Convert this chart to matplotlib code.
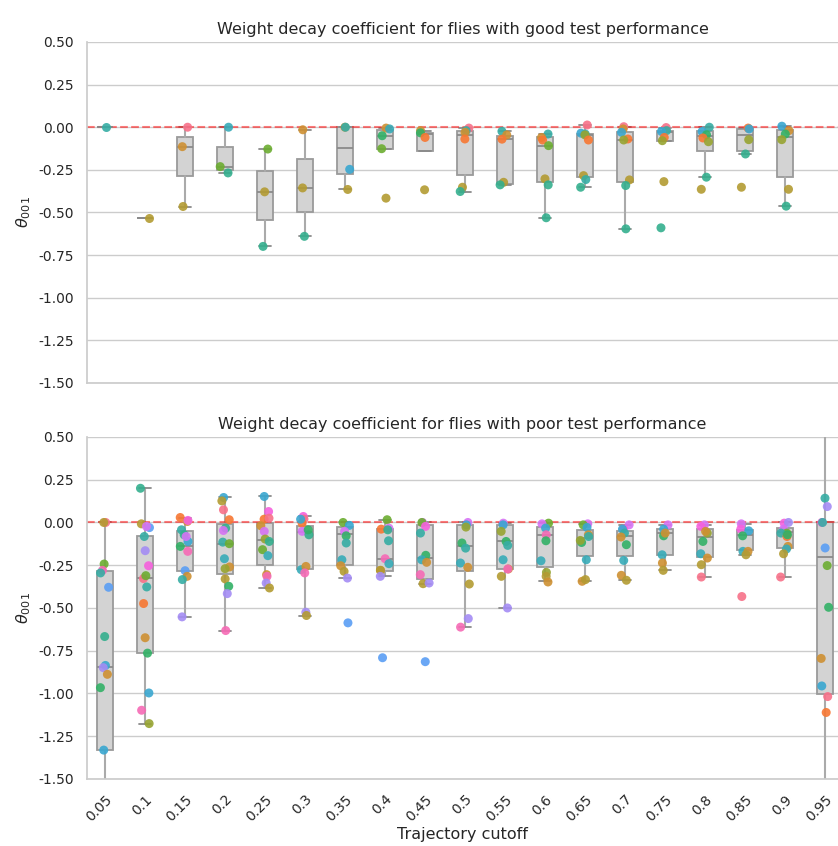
import numpy as np
import matplotlib
matplotlib.use('Agg')
import matplotlib.pyplot as plt
import seaborn as sns

cutoffs = ['0.05', '0.1', '0.15', '0.2', '0.25', '0.3', '0.35', '0.4', '0.45', '0.5',
           '0.55', '0.6', '0.65', '0.7', '0.75', '0.8', '0.85', '0.9', '0.95']

# theta_001 per fly, flies with good test performance
good_vals = [
    [0.0],
    [-0.53],
    [0.0, -0.114, -0.465],
    [0.0, -0.231, -0.268],
    [-0.128, -0.379, -0.699],
    [-0.015, -0.356, -0.64],
    [0.0, 0.0, -0.247, -0.365],
    [-0.005, -0.01, -0.05, -0.126, -0.416],
    [-0.02, -0.033, -0.06, -0.367],
    [-0.005, -0.02, -0.03, -0.069, -0.352, -0.377],
    [-0.024, -0.045, -0.07, -0.323, -0.338],
    [-0.04, -0.06, -0.075, -0.108, -0.303, -0.338, -0.531],
    [0.013, -0.035, -0.04, -0.045, -0.075, -0.284, -0.307, -0.352],
    [0.003, -0.01, -0.03, -0.069, -0.075, -0.309, -0.342, -0.596],
    [-0.002, -0.02, -0.025, -0.06, -0.079, -0.319, -0.59],
    [0.0, -0.025, -0.044, -0.063, -0.085, -0.293, -0.364],
    [-0.005, -0.01, -0.073, -0.157, -0.352],
    [0.006, -0.02, -0.04, -0.073, -0.364, -0.463],
    [],
]
good_fly = [
    [8], [3], [0, 2, 3], [9, 5, 7], [5, 3, 7], [2, 3, 7], [2, 8, 10, 3],
    [2, 9, 6, 5, 3], [2, 6, 1, 3], [0, 8, 2, 1, 3, 7], [8, 2, 1, 3, 7],
    [8, 2, 1, 5, 3, 7, 7], [0, 10, 9, 4, 1, 3, 8, 7], [0, 2, 10, 1, 4, 3, 7, 7],
    [0, 8, 10, 1, 4, 3, 7], [8, 10, 6, 1, 4, 7, 3], [1, 10, 4, 7, 3],
    [10, 2, 6, 4, 3, 7], [],
]
good_q1 = [0.0, -0.53, -0.289, -0.25, -0.543, -0.498, -0.274, -0.128, -0.141, -0.282,
           -0.332, -0.319, -0.29, -0.319, -0.079, -0.137, -0.137, -0.29]
good_med = [0.0, -0.53, -0.114, -0.235, -0.379, -0.356, -0.124, -0.05, -0.04, -0.046,
            -0.069, -0.11, -0.046, -0.075, -0.03, -0.054, -0.044, -0.056]
good_q3 = [0.0, -0.53, -0.059, -0.118, -0.254, -0.186, 0.0, -0.015, -0.032, -0.024,
           -0.05, -0.06, -0.04, -0.026, -0.023, -0.025, -0.013, -0.017]
good_lo = [0.0, -0.53, -0.465, -0.268, -0.699, -0.64, -0.365, -0.128, -0.141, -0.377,
           -0.338, -0.531, -0.352, -0.596, -0.079, -0.293, -0.157, -0.463]
good_hi = [0.0, -0.53, 0.0, 0.0, -0.128, -0.015, 0.0, -0.005, -0.02, -0.005,
           -0.024, -0.04, 0.013, 0.003, -0.002, 0.0, -0.005, 0.006]

# theta_001 per fly, flies with poor test performance
poor_vals = [
    [0.0, 0.0, -0.243, -0.28, -0.295, -0.379, -0.667, -0.836, -0.849, -0.888, -0.966, -1.331],
    [0.2, -0.008, -0.03, -0.023, -0.082, -0.165, -0.253, -0.328, -0.311, -0.377, -0.474,
     -0.674, -0.764, -0.997, -1.098, -1.176],
    [0.029, 0.006, 0.012, -0.043, -0.072, -0.111, -0.14, -0.082, -0.169, -0.282, -0.315,
     -0.334, -0.552],
    [0.146, 0.126, 0.074, 0.016, -0.033, -0.047, -0.115, -0.124, -0.212, -0.26, -0.27,
     -0.33, -0.373, -0.416, -0.632],
    [0.152, 0.064, 0.019, 0.025, -0.019, -0.052, -0.097, -0.111, -0.159, -0.194, -0.305,
     -0.315, -0.354, -0.383],
    [0.035, 0.02, -0.004, 0.019, -0.052, -0.072, -0.043, -0.276, -0.257, -0.295, -0.525, -0.544],
    [0.0, -0.017, -0.052, -0.078, -0.12, -0.218, -0.253, -0.286, -0.325, -0.587],
    [0.016, -0.039, -0.033, -0.043, -0.107, -0.212, -0.241, -0.28, -0.28, -0.315, -0.791],
    [0.0, 0.0, -0.023, -0.062, -0.192, -0.218, -0.233, -0.305, -0.358, -0.354, -0.814],
    [0.0, -0.014, -0.027, -0.12, -0.15, -0.237, -0.262, -0.36, -0.562, -0.612],
    [-0.004, -0.014, -0.052, -0.111, -0.134, -0.218, -0.272, -0.272, -0.315, -0.5],
    [-0.004, -0.008, -0.033, -0.072, -0.107, -0.224, -0.292, -0.315, -0.348],
    [-0.008, -0.014, -0.029, -0.072, -0.082, -0.117, -0.105, -0.218, -0.344, -0.334],
    [-0.014, -0.039, -0.039, -0.062, -0.13, -0.085, -0.222, -0.309, -0.338],
    [-0.014, -0.039, -0.078, -0.062, -0.189, -0.237, -0.28],
    [-0.014, -0.023, -0.062, -0.052, -0.111, -0.183, -0.208, -0.247, -0.319],
    [-0.008, -0.039, -0.049, -0.078, -0.169, -0.169, -0.189, -0.433],
    [-0.004, 0.0, -0.039, -0.062, -0.062, -0.082, -0.072, -0.14, -0.155, -0.183, -0.319],
    [0.142, 0.093, 0.0, 0.0, -0.149, -0.252, -0.496, -0.795, -0.956, -1.018, -1.111],
]
poor_fly = [
    [0, 3, 5, 15, 8, 11, 7, 10, 12, 2, 6, 10],
    [7, 3, 11, 13, 8, 12, 14, 0, 5, 8, 1, 2, 6, 10, 15, 4],
    [1, 2, 14, 8, 7, 10, 6, 13, 15, 11, 2, 8, 12],
    [10, 3, 0, 1, 7, 13, 8, 5, 9, 2, 4, 3, 6, 12, 15],
    [10, 14, 1, 0, 2, 13, 4, 7, 5, 9, 2, 15, 12, 3],
    [14, 0, 1, 10, 13, 7, 6, 9, 2, 15, 12, 3],
    [5, 10, 13, 6, 8, 9, 2, 3, 12, 11],
    [5, 1, 13, 7, 8, 15, 9, 2, 3, 12, 11],
    [13, 5, 14, 8, 6, 9, 2, 15, 3, 12, 11],
    [13, 10, 4, 6, 8, 9, 2, 3, 12, 15],
    [13, 10, 4, 6, 8, 9, 2, 15, 3, 12],
    [5, 13, 10, 15, 6, 9, 4, 3, 2],
    [13, 5, 10, 2, 8, 6, 4, 9, 2, 3],
    [13, 14, 10, 8, 6, 2, 9, 2, 3],
    [13, 10, 6, 2, 9, 2, 3],
    [13, 14, 4, 2, 6, 9, 2, 3, 0],
    [13, 14, 10, 6, 9, 2, 3, 0],
    [14, 12, 13, 5, 8, 1, 6, 2, 9, 3, 0],
    [8, 12, 14, 8, 11, 5, 6, 2, 10, 0, 1],
]
poor_q1 = [-1.331, -0.764, -0.286, -0.301, -0.251, -0.27, -0.247, -0.282, -0.328, -0.282,
           -0.272, -0.26, -0.194, -0.198, -0.189, -0.202, -0.163, -0.15, -1.001]
poor_med = [-0.844, -0.327, -0.136, -0.126, -0.105, -0.056, -0.066, -0.212, -0.208, -0.136,
            -0.107, -0.076, -0.091, -0.078, -0.062, -0.086, -0.072, -0.056, -0.202]
poor_q3 = [-0.282, -0.082, -0.052, -0.01, -0.004, -0.023, -0.027, -0.039, -0.017, -0.017,
           -0.014, -0.027, -0.043, -0.047, -0.039, -0.039, -0.043, -0.033, 0.0]
poor_lo = [-1.8, -1.176, -0.552, -0.632, -0.383, -0.544, -0.325, -0.315, -0.358, -0.612,
           -0.5, -0.34, -0.344, -0.338, -0.28, -0.319, -0.189, -0.319, -1.8]
poor_hi = [0.0, 0.2, 0.029, 0.146, 0.152, 0.035, 0.0, 0.016, 0.0, 0.0,
           -0.004, -0.004, -0.008, -0.014, -0.014, -0.014, -0.008, 0.0, 0.7]

sns.set_theme(style='whitegrid')
plt.rcParams['xtick.labelsize'] = 10
plt.rcParams['ytick.labelsize'] = 10
palette = sns.husl_palette(16)
rng = np.random.default_rng(7)


def draw_panel(ax, vals, fly, q1, med, q3, lo, hi, title):
    stats = []
    for i in range(len(q1)):
        stats.append({'q1': q1[i], 'med': med[i], 'q3': q3[i],
                      'whislo': lo[i], 'whishi': hi[i]})
    ax.bxp(stats, positions=range(len(q1)), widths=0.4, capwidths=0.3,
           showfliers=False, patch_artist=True,
           boxprops=dict(facecolor='lightgray', edgecolor='#9a9a9a', linewidth=1.3),
           medianprops=dict(color='#8a8a8a', linewidth=1.3),
           whiskerprops=dict(color='#aaaaaa', linewidth=1.5),
           capprops=dict(color='#8a8a8a', linewidth=1.3))
    for i, (v, f) in enumerate(zip(vals, fly)):
        if not v:
            continue
        x = i + rng.uniform(-0.12, 0.12, len(v))
        ax.scatter(x, v, s=42, c=[palette[k] for k in f], alpha=0.9,
                   linewidths=0, zorder=3)
    ax.axhline(0, color='red', linestyle='--', alpha=0.5, linewidth=1.5, zorder=2)
    ax.set_ylim(-1.5, 0.5)
    ax.set_yticks(np.arange(-1.5, 0.51, 0.25))
    ax.yaxis.set_major_formatter(plt.FormatStrFormatter('%.2f'))
    ax.set_xlim(-0.45, 18.33)
    ax.grid(False, axis='x')
    ax.spines['top'].set_visible(False)
    ax.spines['right'].set_visible(False)
    ax.set_ylabel(r'$\theta_{001}$', fontsize=11.5)
    ax.set_title(title, fontsize=11.5)


fig = plt.figure(figsize=(8.38, 8.46), dpi=100)
ax_top = fig.add_axes([0.1038, 0.5473, 0.8962, 0.4031])
ax_bot = fig.add_axes([0.1038, 0.0792, 0.8962, 0.4043])

draw_panel(ax_top, good_vals, good_fly, good_q1, good_med, good_q3, good_lo, good_hi,
           'Weight decay coefficient for flies with good test performance')
draw_panel(ax_bot, poor_vals, poor_fly, poor_q1, poor_med, poor_q3, poor_lo, poor_hi,
           'Weight decay coefficient for flies with poor test performance')

ax_top.set_xticks(range(len(cutoffs)))
ax_top.set_xticklabels([])
ax_bot.set_xticks(range(len(cutoffs)))
ax_bot.set_xticklabels(cutoffs, rotation=45, ha='right', rotation_mode='anchor')
ax_bot.set_xlabel('Trajectory cutoff', fontsize=11.5, labelpad=2)

fig.savefig('out.png', dpi=100)
